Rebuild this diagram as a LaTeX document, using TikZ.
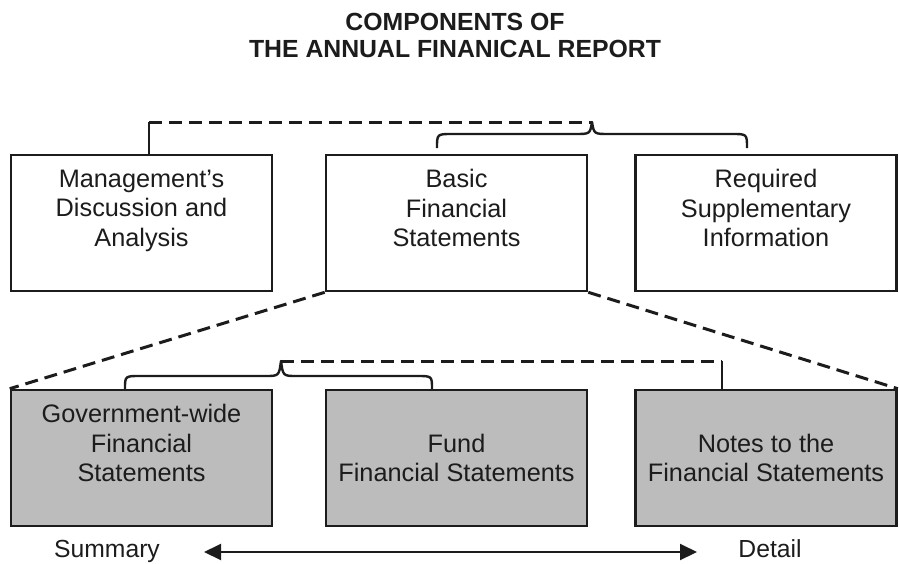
\documentclass[tikz,border=0pt]{standalone}
\usepackage{fontspec}
\setmainfont{Liberation Sans}
\usetikzlibrary{arrows.meta}
\definecolor{ink}{RGB}{28,28,28}
\definecolor{shade}{RGB}{188,188,188}
\begin{document}
\begin{tikzpicture}[x=1pt,y=-1pt,
  box/.style={draw=ink, line width=2.6pt, minimum width=261pt, minimum height=136pt,
    inner sep=0pt, align=center, font=\fontsize{25.3}{29.5}\selectfont, text=ink},
  lowbox/.style={box, fill=shade},
  ttl/.style={font=\bfseries\fontsize{24.8}{27}\selectfont, anchor=base, inner sep=0pt, text=ink},
  lbl/.style={font=\fontsize{24.7}{29}\selectfont, anchor=base, inner sep=0pt, text=ink},
  dashline/.style={draw=ink, line width=3pt, dash pattern=on 13pt off 7pt},
  braceline/.style={draw=ink, line width=2.4pt, line join=round},
  tie/.style={draw=ink, line width=2pt},
  scale arrow/.style={draw=ink, line width=2pt, {Triangle[length=17pt,width=16pt]}-{Triangle[length=17pt,width=16pt]}}]
\useasboundingbox (0,0) rectangle (899,563);

% title
\node[ttl] (t1) at (455,30) {COMPONENTS OF};
\node[ttl] (t2) at (455,57) {THE ANNUAL FINANICAL REPORT};

% upper row
\node[box, fill=white] (mda) at (141.5,223) {Management’s\\Discussion and\\Analysis\\\mbox{}};
\node[box, fill=white] (bfs) at (456.5,223) {Basic\\Financial\\Statements\\\mbox{}};
\node[box, fill=white] (rsi) at (766,223) {Required\\Supplementary\\Information\\\mbox{}};

% lower row
\node[lowbox] (gw) at (141.5,458) {Government-wide\\Financial\\Statements\\\mbox{}};
\node[lowbox] (fund) at (456.5,458) {Fund\\Financial Statements};
\node[lowbox] (notes) at (766,458) {Notes to the\\Financial Statements};

% expansion lines
\draw[dashline] (bfs.south west) -- (gw.north west);
\draw[dashline] (bfs.south east) -- (notes.north east);

% upper brace and link
\coordinate (utip) at (592,122);
\coordinate (ulink) at (149,122);
\draw[braceline] (437,148) .. controls (437,134) .. (452,134) -- (575,134)
  .. controls (590,134) .. (utip) .. controls (594,134) .. (609,134) -- (732,134)
  .. controls (747,134) .. (747,148);
\draw[dashline] (ulink) -- (utip);
\draw[tie] (ulink) -- (ulink |- mda.north);

% lower brace and link
\coordinate (ltip) at (281,361);
\coordinate (llink) at (722,361);
\draw[braceline] (125,389) .. controls (125,376) .. (140,376) -- (265,376)
  .. controls (279,376) .. (ltip) .. controls (283,376) .. (297,376) -- (417,376)
  .. controls (432,376) .. (432,389);
\draw[dashline] (ltip) -- (llink);
\draw[tie] (llink) -- (llink |- notes.north);

% scale
\node[lbl] (sum) at (107,557.5) {Summary};
\node[lbl] (det) at (770,557.5) {Detail};
\coordinate (aL) at (204,552);
\coordinate (aR) at (697,552);
\draw[scale arrow] (aL) -- (aR);
\end{tikzpicture}
\end{document}
